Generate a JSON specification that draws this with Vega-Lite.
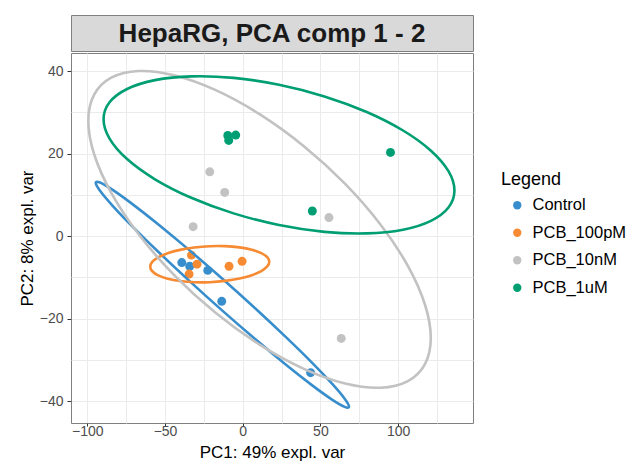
{
  "$schema": "https://vega.github.io/schema/vega-lite/v6.json",
  "padding": {"left": 17, "top": 14, "right": 2, "bottom": 2},
  "config": {"font": "Liberation Sans"},
  "datasets": {
    "pts": [
      {"group": "Control", "PC1": -39.2, "PC2": -6.4},
      {"group": "Control", "PC1": -34.1, "PC2": -7.3},
      {"group": "Control", "PC1": -22.5, "PC2": -8.3},
      {"group": "Control", "PC1": -13.5, "PC2": -15.8},
      {"group": "Control", "PC1": 43.7, "PC2": -33.1},
      {"group": "PCB_100pM", "PC1": -33.0, "PC2": -4.6},
      {"group": "PCB_100pM", "PC1": -29.4, "PC2": -6.8},
      {"group": "PCB_100pM", "PC1": -34.5, "PC2": -9.2},
      {"group": "PCB_100pM", "PC1": -8.8, "PC2": -7.3},
      {"group": "PCB_100pM", "PC1": -0.4, "PC2": -6.1},
      {"group": "PCB_10nM", "PC1": -21.2, "PC2": 15.6},
      {"group": "PCB_10nM", "PC1": -11.6, "PC2": 10.6},
      {"group": "PCB_10nM", "PC1": -31.9, "PC2": 2.3},
      {"group": "PCB_10nM", "PC1": 55.5, "PC2": 4.5},
      {"group": "PCB_10nM", "PC1": 63.4, "PC2": -24.8},
      {"group": "PCB_1uM", "PC1": -9.6, "PC2": 24.4},
      {"group": "PCB_1uM", "PC1": -4.5, "PC2": 24.5},
      {"group": "PCB_1uM", "PC1": -9.0, "PC2": 23.2},
      {"group": "PCB_1uM", "PC1": 44.8, "PC2": 6.1},
      {"group": "PCB_1uM", "PC1": 95.1, "PC2": 20.3}
    ],
    "ell": [
      {"group": "Control", "i": 0, "PC1": 68.4, "PC2": -41.33},
      {"group": "Control", "i": 1, "PC1": 65.62, "PC2": -39.4},
      {"group": "Control", "i": 2, "PC1": 57.48, "PC2": -35.76},
      {"group": "Control", "i": 3, "PC1": 44.53, "PC2": -30.65},
      {"group": "Control", "i": 4, "PC1": 27.65, "PC2": -24.43},
      {"group": "Control", "i": 5, "PC1": 7.99, "PC2": -17.49},
      {"group": "Control", "i": 6, "PC1": -13.1, "PC2": -10.34},
      {"group": "Control", "i": 7, "PC1": -34.19, "PC2": -3.45},
      {"group": "Control", "i": 8, "PC1": -53.85, "PC2": 2.71},
      {"group": "Control", "i": 9, "PC1": -70.73, "PC2": 7.71},
      {"group": "Control", "i": 10, "PC1": -83.68, "PC2": 11.22},
      {"group": "Control", "i": 11, "PC1": -91.82, "PC2": 13.0},
      {"group": "Control", "i": 12, "PC1": -94.6, "PC2": 12.93},
      {"group": "Control", "i": 13, "PC1": -91.82, "PC2": 11.0},
      {"group": "Control", "i": 14, "PC1": -83.68, "PC2": 7.36},
      {"group": "Control", "i": 15, "PC1": -70.73, "PC2": 2.25},
      {"group": "Control", "i": 16, "PC1": -53.85, "PC2": -3.97},
      {"group": "Control", "i": 17, "PC1": -34.19, "PC2": -10.91},
      {"group": "Control", "i": 18, "PC1": -13.1, "PC2": -18.06},
      {"group": "Control", "i": 19, "PC1": 7.99, "PC2": -24.95},
      {"group": "Control", "i": 20, "PC1": 27.65, "PC2": -31.11},
      {"group": "Control", "i": 21, "PC1": 44.53, "PC2": -36.11},
      {"group": "Control", "i": 22, "PC1": 57.48, "PC2": -39.62},
      {"group": "Control", "i": 23, "PC1": 65.62, "PC2": -41.4},
      {"group": "PCB_100pM", "i": 0, "PC1": 17.08, "PC2": -6.2},
      {"group": "PCB_100pM", "i": 1, "PC1": 15.77, "PC2": -5.09},
      {"group": "PCB_100pM", "i": 2, "PC1": 11.95, "PC2": -4.1},
      {"group": "PCB_100pM", "i": 3, "PC1": 5.86, "PC2": -3.29},
      {"group": "PCB_100pM", "i": 4, "PC1": -2.07, "PC2": -2.72},
      {"group": "PCB_100pM", "i": 5, "PC1": -11.31, "PC2": -2.43},
      {"group": "PCB_100pM", "i": 6, "PC1": -21.22, "PC2": -2.44},
      {"group": "PCB_100pM", "i": 7, "PC1": -31.13, "PC2": -2.75},
      {"group": "PCB_100pM", "i": 8, "PC1": -40.37, "PC2": -3.33},
      {"group": "PCB_100pM", "i": 9, "PC1": -48.3, "PC2": -4.14},
      {"group": "PCB_100pM", "i": 10, "PC1": -54.39, "PC2": -5.14},
      {"group": "PCB_100pM", "i": 11, "PC1": -58.21, "PC2": -6.25},
      {"group": "PCB_100pM", "i": 12, "PC1": -59.52, "PC2": -7.4},
      {"group": "PCB_100pM", "i": 13, "PC1": -58.21, "PC2": -8.51},
      {"group": "PCB_100pM", "i": 14, "PC1": -54.39, "PC2": -9.5},
      {"group": "PCB_100pM", "i": 15, "PC1": -48.3, "PC2": -10.31},
      {"group": "PCB_100pM", "i": 16, "PC1": -40.37, "PC2": -10.88},
      {"group": "PCB_100pM", "i": 17, "PC1": -31.13, "PC2": -11.17},
      {"group": "PCB_100pM", "i": 18, "PC1": -21.22, "PC2": -11.16},
      {"group": "PCB_100pM", "i": 19, "PC1": -11.31, "PC2": -10.85},
      {"group": "PCB_100pM", "i": 20, "PC1": -2.07, "PC2": -10.27},
      {"group": "PCB_100pM", "i": 21, "PC1": 5.86, "PC2": -9.46},
      {"group": "PCB_100pM", "i": 22, "PC1": 11.95, "PC2": -8.46},
      {"group": "PCB_100pM", "i": 23, "PC1": 15.77, "PC2": -7.35},
      {"group": "PCB_10nM", "i": 0, "PC1": 121.04, "PC2": -24.7},
      {"group": "PCB_10nM", "i": 1, "PC1": 117.28, "PC2": -16.57},
      {"group": "PCB_10nM", "i": 2, "PC1": 106.27, "PC2": -7.2},
      {"group": "PCB_10nM", "i": 3, "PC1": 88.76, "PC2": 2.77},
      {"group": "PCB_10nM", "i": 4, "PC1": 65.94, "PC2": 12.67},
      {"group": "PCB_10nM", "i": 5, "PC1": 39.36, "PC2": 21.81},
      {"group": "PCB_10nM", "i": 6, "PC1": 10.84, "PC2": 29.58},
      {"group": "PCB_10nM", "i": 7, "PC1": -17.68, "PC2": 35.45},
      {"group": "PCB_10nM", "i": 8, "PC1": -44.26, "PC2": 39.01},
      {"group": "PCB_10nM", "i": 9, "PC1": -67.08, "PC2": 40.03},
      {"group": "PCB_10nM", "i": 10, "PC1": -84.59, "PC2": 38.42},
      {"group": "PCB_10nM", "i": 11, "PC1": -95.6, "PC2": 34.31},
      {"group": "PCB_10nM", "i": 12, "PC1": -99.36, "PC2": 27.98},
      {"group": "PCB_10nM", "i": 13, "PC1": -95.6, "PC2": 19.85},
      {"group": "PCB_10nM", "i": 14, "PC1": -84.59, "PC2": 10.48},
      {"group": "PCB_10nM", "i": 15, "PC1": -67.08, "PC2": 0.51},
      {"group": "PCB_10nM", "i": 16, "PC1": -44.26, "PC2": -9.39},
      {"group": "PCB_10nM", "i": 17, "PC1": -17.68, "PC2": -18.53},
      {"group": "PCB_10nM", "i": 18, "PC1": 10.84, "PC2": -26.3},
      {"group": "PCB_10nM", "i": 19, "PC1": 39.36, "PC2": -32.17},
      {"group": "PCB_10nM", "i": 20, "PC1": 65.94, "PC2": -35.73},
      {"group": "PCB_10nM", "i": 21, "PC1": 88.76, "PC2": -36.75},
      {"group": "PCB_10nM", "i": 22, "PC1": 106.27, "PC2": -35.14},
      {"group": "PCB_10nM", "i": 23, "PC1": 117.28, "PC2": -31.03},
      {"group": "PCB_1uM", "i": 0, "PC1": 136.26, "PC2": 11.06},
      {"group": "PCB_1uM", "i": 1, "PC1": 132.41, "PC2": 15.75},
      {"group": "PCB_1uM", "i": 2, "PC1": 121.13, "PC2": 20.72},
      {"group": "PCB_1uM", "i": 3, "PC1": 103.19, "PC2": 25.61},
      {"group": "PCB_1uM", "i": 4, "PC1": 79.81, "PC2": 30.1},
      {"group": "PCB_1uM", "i": 5, "PC1": 52.58, "PC2": 33.88},
      {"group": "PCB_1uM", "i": 6, "PC1": 23.36, "PC2": 36.7},
      {"group": "PCB_1uM", "i": 7, "PC1": -5.86, "PC2": 38.36},
      {"group": "PCB_1uM", "i": 8, "PC1": -33.09, "PC2": 38.74},
      {"group": "PCB_1uM", "i": 9, "PC1": -56.47, "PC2": 37.83},
      {"group": "PCB_1uM", "i": 10, "PC1": -74.41, "PC2": 35.68},
      {"group": "PCB_1uM", "i": 11, "PC1": -85.69, "PC2": 32.45},
      {"group": "PCB_1uM", "i": 12, "PC1": -89.54, "PC2": 28.34},
      {"group": "PCB_1uM", "i": 13, "PC1": -85.69, "PC2": 23.65},
      {"group": "PCB_1uM", "i": 14, "PC1": -74.41, "PC2": 18.68},
      {"group": "PCB_1uM", "i": 15, "PC1": -56.47, "PC2": 13.79},
      {"group": "PCB_1uM", "i": 16, "PC1": -33.09, "PC2": 9.3},
      {"group": "PCB_1uM", "i": 17, "PC1": -5.86, "PC2": 5.52},
      {"group": "PCB_1uM", "i": 18, "PC1": 23.36, "PC2": 2.7},
      {"group": "PCB_1uM", "i": 19, "PC1": 52.58, "PC2": 1.04},
      {"group": "PCB_1uM", "i": 20, "PC1": 79.81, "PC2": 0.66},
      {"group": "PCB_1uM", "i": 21, "PC1": 103.19, "PC2": 1.57},
      {"group": "PCB_1uM", "i": 22, "PC1": 121.13, "PC2": 3.72},
      {"group": "PCB_1uM", "i": 23, "PC1": 132.41, "PC2": 6.95}
    ]
  },
  "spacing": 0,
  "vconcat": [
    {
      "width": 402,
      "height": 36,
      "view": {"fill": "#d9d9d9", "stroke": "#7f7f7f", "strokeWidth": 1},
      "data": {"values": [{"label": "HepaRG, PCA comp 1 - 2"}]},
      "mark": {"type": "text", "fontSize": 26, "fontWeight": "bold", "color": "#1a1a1a", "baseline": "middle", "align": "center", "dy": 1},
      "encoding": {"text": {"field": "label"}}
    },
    {
      "width": 402,
      "height": 370,
      "view": {"fill": "white", "stroke": "#7f7f7f", "strokeWidth": 1},
      "layer": [
        {
          "data": {"name": "pts"},
          "mark": {"type": "circle", "size": 80, "opacity": 1},
          "encoding": {
            "x": {"field": "PC1", "type": "quantitative"},
            "y": {"field": "PC2", "type": "quantitative"},
            "color": {"field": "group", "type": "nominal"}
          }
        },
        {
          "data": {"name": "ell"},
          "mark": {"type": "line", "strokeWidth": 2.6, "interpolate": "cardinal-closed"},
          "encoding": {
            "x": {"field": "PC1", "type": "quantitative"},
            "y": {"field": "PC2", "type": "quantitative"},
            "color": {"field": "group", "type": "nominal", "legend": null},
            "order": {"field": "i", "type": "quantitative"}
          }
        }
      ],
      "encoding": {
        "x": {
          "field": "PC1", "type": "quantitative",
          "scale": {"domain": [-110.5, 148.2], "nice": false, "zero": false},
          "axis": {
            "title": "PC1: 49% expl. var",
            "values": [-100, -75, -50, -25, 0, 25, 50, 75, 100, 125],
            "labelExpr": "datum.value % 50 === 0 ? datum.label : ''",
            "tickColor": {"condition": {"test": "datum.value % 50 !== 0", "value": "transparent"}, "value": "#333333"},
            "tickSize": 3, "labelPadding": -2,
            "domain": false, "grid": true, "gridColor": "#ebebeb", "gridWidth": 1,
            "labelFontSize": 14, "labelColor": "#4d4d4d",
            "titleFontSize": 17, "titleFontWeight": "normal", "titleColor": "#000000", "titlePadding": 6
          }
        },
        "y": {
          "field": "PC2", "type": "quantitative",
          "scale": {"domain": [-45.3, 44.4], "nice": false, "zero": false},
          "axis": {
            "title": "PC2: 8% expl. var",
            "values": [-40, -30, -20, -10, 0, 10, 20, 30, 40],
            "labelExpr": "datum.value % 20 === 0 ? datum.label : ''",
            "tickColor": {"condition": {"test": "datum.value % 20 !== 0", "value": "transparent"}, "value": "#333333"},
            "tickSize": 4, "labelPadding": 4,
            "domain": false, "grid": true, "gridColor": "#ebebeb", "gridWidth": 1,
            "labelFontSize": 14, "labelColor": "#4d4d4d",
            "titleFontSize": 17, "titleFontWeight": "normal", "titleColor": "#000000", "titlePadding": 3
          }
        },
        "color": {
          "field": "group", "type": "nominal",
          "scale": {"domain": ["Control", "PCB_100pM", "PCB_10nM", "PCB_1uM"], "range": ["#388ECC", "#F68B33", "#C2C2C2", "#009E73"]},
          "legend": {
            "title": "Legend", "orient": "none", "legendX": 430, "legendY": 156,
            "titleFontSize": 18, "titleFontWeight": "normal", "titleColor": "#000000", "titlePadding": 8,
            "labelFontSize": 16.5, "labelColor": "#000000", "labelOffset": 7,
            "symbolType": "circle", "symbolSize": 70, "symbolOffset": 8, "symbolStrokeWidth": 0,
            "rowPadding": 10.5
          }
        }
      }
    }
  ]
}
